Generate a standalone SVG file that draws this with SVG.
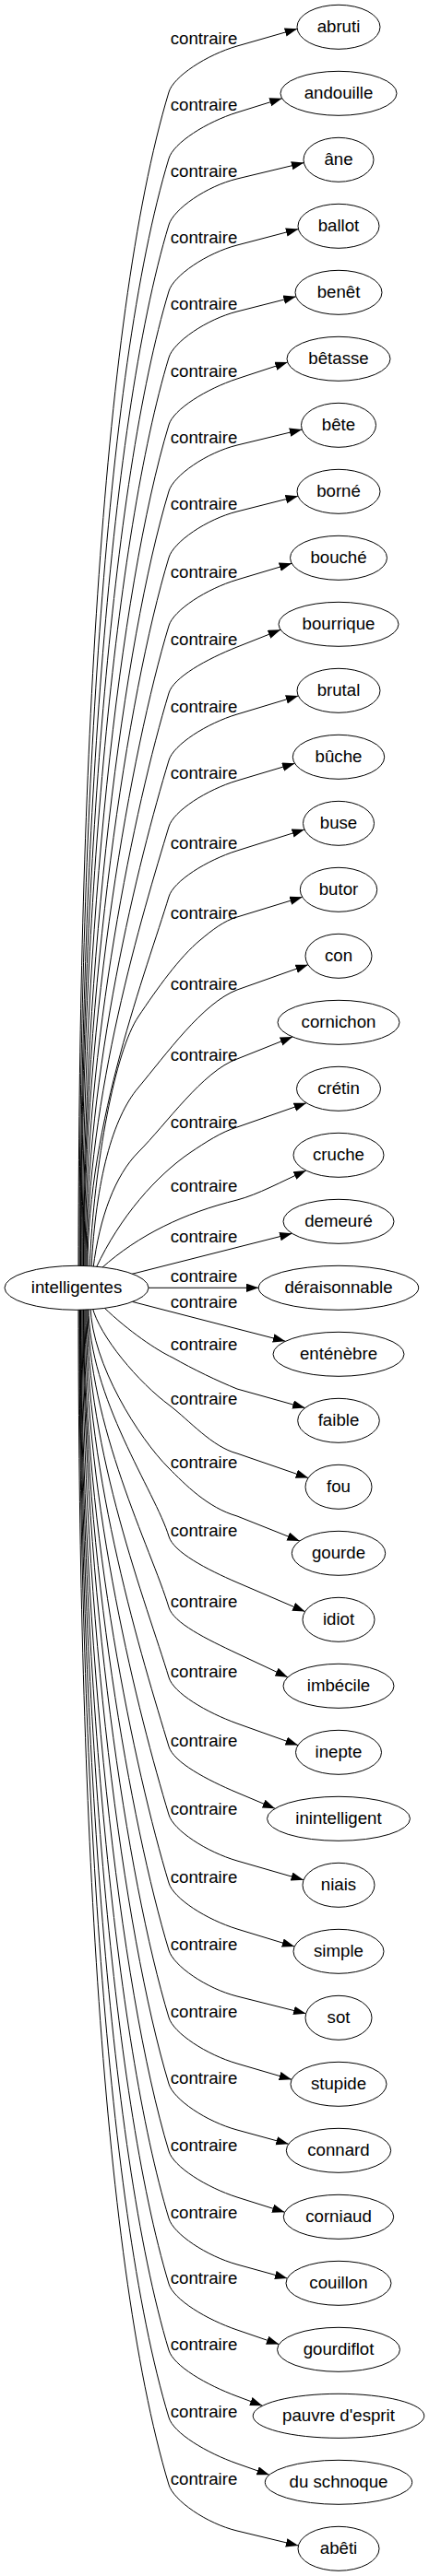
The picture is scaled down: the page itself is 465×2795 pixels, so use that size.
<svg xmlns="http://www.w3.org/2000/svg" width="465" height="2795" viewBox="0 0 465 2795">
<defs>
<marker id="ah" markerWidth="14" markerHeight="10" refX="13.5" refY="4.75" orient="auto" markerUnits="userSpaceOnUse"><path d="M0,0 L13.5,4.75 L0,9.5 z" fill="#000"/></marker>
<style>
.e path{fill:none;stroke:#000;stroke-width:1;marker-end:url(#ah)}
.e text,.n text{font-family:"Liberation Sans",Arial,sans-serif;font-size:18.67px;fill:#000;text-anchor:middle}
.n ellipse{fill:#fff;stroke:#000;stroke-width:1}
</style>
</defs>
<rect width="465" height="2795" fill="#fff"/>
<g id="connectors" class="e">
<g id="e_abruti"><path d="M85,1376 C85,877 107.8,349.7 183,100 C188,83 224,59.5 257,50 L322.2,31.3"/><text x="221" y="48">contraire</text></g>
<g id="e_andouille"><path d="M86,1376 C86,905.2 112.1,407.6 183,172 C188,155 224,132.3 257,122 L305.7,106.8"/><text x="221" y="120">contraire</text></g>
<g id="e_ane"><path d="M87,1376 C87,933.3 116.3,465.5 183,244 C188,227 224,201.9 257,194 L329.4,176.6"/><text x="221" y="192">contraire</text></g>
<g id="e_ballot"><path d="M87.5,1376 C87.5,961.4 120.6,523.4 183,316 C188,299 224,274.6 257,266 L323.4,248.6"/><text x="221" y="264">contraire</text></g>
<g id="e_benet"><path d="M88,1376 C88,989.5 124.8,581.3 183,388 C188,371 224,346.4 257,338 L320.8,321.8"/><text x="221" y="336">contraire</text></g>
<g id="e_betasse"><path d="M89,1376 C89,1017.9 129.1,640 183,461 C188,444 224,421.9 257,411 L311.7,393"/><text x="221" y="409">contraire</text></g>
<g id="e_bete"><path d="M90,1376 C90,1046 133.4,697.8 183,533 C188,516 224,491 257,483 L327.3,466"/><text x="221" y="481">contraire</text></g>
<g id="e_borne"><path d="M90.5,1376 C90.5,1074.1 137.6,755.7 183,605 C188,588 224,563.3 257,555 L323,538.3"/><text x="221" y="553">contraire</text></g>
<g id="e_bouche"><path d="M91,1376 C91,1102.9 142,815.2 183,679 C188,662 224,638.9 257,629 L316.2,611.3"/><text x="221" y="627">contraire</text></g>
<g id="e_bourrique"><path d="M92,1376 C92,1131.4 146.3,873.9 183,752 C188,735 224,715.1 257,702 L304.1,683.3"/><text x="221" y="700">contraire</text></g>
<g id="e_brutal"><path d="M93,1376 C93,1159.9 150.6,932.6 183,825 C188,808 224,784.9 257,775 L323.3,755"/><text x="221" y="773">contraire</text></g>
<g id="e_buche"><path d="M94,1376 C94,1188 154.9,990.5 183,897 C188,880 224,856.9 257,847 L319.5,828.3"/><text x="221" y="845">contraire</text></g>
<g id="e_buse"><path d="M95,1376 C95,1217.6 159.3,1051.6 183,973 C188,956 224,933.4 257,923 L330,900"/><text x="221" y="921">contraire</text></g>
<g id="e_butor"><path d="M97,1376 C102,1260 125,1140 150,1103 C170,1073 195,1038 217,1020 C230,1009 243,999 257,995 L327.7,973.3"/><text x="221" y="997">contraire</text></g>
<g id="e_con"><path d="M99,1376 C104,1280 122,1213 150,1180 C180,1144 220,1088 257,1074 L333.9,1046.7"/><text x="221" y="1074">contraire</text></g>
<g id="e_cornichon"><path d="M101,1376 C108,1320 125,1275 150,1250 C180,1220 220,1162 257,1149 L317.1,1125"/><text x="221" y="1151">contraire</text></g>
<g id="e_cretin"><path d="M104,1376 C130,1320 170,1275 207,1250 C222,1240 240,1228 257,1223 L332.1,1196.7"/><text x="221" y="1224">contraire</text></g>
<g id="e_cruche"><path d="M110,1376 C150,1340 200,1316 257,1302 C280,1296 305,1282 331.8,1270"/><text x="221" y="1293">contraire</text></g>
<g id="e_demeure"><path d="M140,1383.1 L316.6,1338.3"/><text x="221" y="1348">contraire</text></g>
<g id="e_deraisonnable"><path d="M158,1397.3 L280.3,1397.3"/><text x="221" y="1391">contraire</text></g>
<g id="e_entenebre"><path d="M140,1411.5 L309.3,1455.3"/><text x="221" y="1419">contraire</text></g>
<g id="e_faible"><path d="M112,1418 C140,1445 170,1465 187,1473 C210,1486 235,1498 257,1507 L330.6,1527.6"/><text x="221" y="1465">contraire</text></g>
<g id="e_fou"><path d="M100,1418 C108,1450 150,1500 184,1525 C205,1541 230,1570 257,1577 L334.1,1603.6"/><text x="221" y="1524">contraire</text></g>
<g id="e_gourde"><path d="M98,1418 C100,1480 150,1560 183,1593 C200,1610 225,1636 257,1645 L324.8,1672"/><text x="221" y="1593">contraire</text></g>
<g id="e_idiot"><path d="M96,1418 C96,1516.3 168.4,1618.6 183,1667 C188,1684 224,1702.8 257,1717 L330.6,1748.6"/><text x="221" y="1667">contraire</text></g>
<g id="e_imbecile"><path d="M95,1418 C95,1546.4 163.9,1680.5 183,1744 C188,1761 224,1778.5 257,1794 L311.9,1819.8"/><text x="221" y="1744">contraire</text></g>
<g id="e_inepte"><path d="M94,1418 C94,1576 159.4,1741.6 183,1820 C188,1837 224,1858.1 257,1870 L323,1893.6"/><text x="221" y="1820">contraire</text></g>
<g id="e_inintelligent"><path d="M93,1418 C93,1605.3 155,1801.9 183,1895 C188,1912 224,1931.1 257,1945 L298.1,1962.3"/><text x="221" y="1895">contraire</text></g>
<g id="e_niais"><path d="M92,1418 C92,1634.1 150.6,1861.4 183,1969 C188,1986 224,2009.4 257,2019 L329,2039.8"/><text x="221" y="1969">contraire</text></g>
<g id="e_simple"><path d="M91,1418 C91,1663 146.2,1920.9 183,2043 C188,2060 224,2082.8 257,2093 L319.2,2112"/><text x="221" y="2043">contraire</text></g>
<g id="e_sot"><path d="M90.5,1418 C90.5,1691.4 141.9,1979.6 183,2116 C188,2133 224,2157.7 257,2166 L331.6,2184.8"/><text x="221" y="2116">contraire</text></g>
<g id="e_stupide"><path d="M90,1418 C90,1719.9 137.6,2038.3 183,2189 C188,2206 224,2229.4 257,2239 L316.1,2256.3"/><text x="221" y="2189">contraire</text></g>
<g id="e_connard"><path d="M89,1418 C89,1748 133.4,2096.2 183,2261 C188,2278 224,2302.1 257,2311 L312.8,2326.3"/><text x="221" y="2261">contraire</text></g>
<g id="e_corniaud"><path d="M88,1418 C88,1776.5 129.1,2154.9 183,2334 C188,2351 224,2373.4 257,2384 L308.6,2400.3"/><text x="221" y="2334">contraire</text></g>
<g id="e_couillon"><path d="M87.5,1418 C87.5,1804.9 124.8,2213.5 183,2407 C188,2424 224,2447.8 257,2457 L311.4,2472"/><text x="221" y="2407">contraire</text></g>
<g id="e_gourdiflot"><path d="M87,1418 C87,1832.6 120.6,2270.6 183,2478 C188,2495 224,2516.8 257,2528 L302.4,2543.6"/><text x="221" y="2478">contraire</text></g>
<g id="e_pauvre"><path d="M86.5,1418 C86.5,1860.7 116.3,2328.5 183,2550 C188,2567 224,2587.8 257,2600 L284.5,2610.3"/><text x="221" y="2550">contraire</text></g>
<g id="e_duschnoque"><path d="M86,1418 C86,1889.2 112,2387.2 183,2623 C188,2640 224,2661.4 257,2673 L291.9,2685.3"/><text x="221" y="2623">contraire</text></g>
<g id="e_abeti"><path d="M85,1418 C85,1917.6 107.7,2445.9 183,2696 C188,2713 224,2738.1 257,2746 L323.4,2762"/><text x="221" y="2696">contraire</text></g>
</g>
<g id="nodes" class="n">
<g id="n_intelligentes"><ellipse cx="83" cy="1397.3" rx="78" ry="24"/><text x="83" y="1403.3">intelligentes</text></g>
<g id="n_abruti"><ellipse cx="367" cy="29.3" rx="45" ry="24"/><text x="367" y="35.3">abruti</text></g>
<g id="n_andouille"><ellipse cx="367" cy="101.3" rx="63" ry="24"/><text x="367" y="107.3">andouille</text></g>
<g id="n_ane"><ellipse cx="367" cy="173.3" rx="38" ry="24"/><text x="367" y="179.3">âne</text></g>
<g id="n_ballot"><ellipse cx="367" cy="245.3" rx="44" ry="24"/><text x="367" y="251.3">ballot</text></g>
<g id="n_benet"><ellipse cx="367" cy="317.3" rx="47" ry="24"/><text x="367" y="323.3">benêt</text></g>
<g id="n_betasse"><ellipse cx="367" cy="389.3" rx="56" ry="24"/><text x="367" y="395.3">bêtasse</text></g>
<g id="n_bete"><ellipse cx="367" cy="461.3" rx="40.5" ry="24"/><text x="367" y="467.3">bête</text></g>
<g id="n_borne"><ellipse cx="367" cy="533.3" rx="45" ry="24"/><text x="367" y="539.3">borné</text></g>
<g id="n_bouche"><ellipse cx="367" cy="605.3" rx="52.5" ry="24"/><text x="367" y="611.3">bouché</text></g>
<g id="n_bourrique"><ellipse cx="367" cy="677.3" rx="65" ry="24"/><text x="367" y="683.3">bourrique</text></g>
<g id="n_brutal"><ellipse cx="367" cy="749.3" rx="45" ry="24"/><text x="367" y="755.3">brutal</text></g>
<g id="n_buche"><ellipse cx="367" cy="821.3" rx="49.7" ry="24"/><text x="367" y="827.3">bûche</text></g>
<g id="n_buse"><ellipse cx="367" cy="893.3" rx="38.5" ry="24"/><text x="367" y="899.3">buse</text></g>
<g id="n_butor"><ellipse cx="367" cy="965.3" rx="41.7" ry="24"/><text x="367" y="971.3">butor</text></g>
<g id="n_con"><ellipse cx="367" cy="1037.3" rx="36" ry="24"/><text x="367" y="1043.3">con</text></g>
<g id="n_cornichon"><ellipse cx="367" cy="1109.3" rx="66" ry="24"/><text x="367" y="1115.3">cornichon</text></g>
<g id="n_cretin"><ellipse cx="367" cy="1181.3" rx="45.5" ry="24"/><text x="367" y="1187.3">crétin</text></g>
<g id="n_cruche"><ellipse cx="367" cy="1253.3" rx="49" ry="24"/><text x="367" y="1259.3">cruche</text></g>
<g id="n_demeure"><ellipse cx="367" cy="1325.3" rx="60" ry="24"/><text x="367" y="1331.3">demeuré</text></g>
<g id="n_deraisonnable"><ellipse cx="367" cy="1397.3" rx="86.7" ry="24"/><text x="367" y="1403.3">déraisonnable</text></g>
<g id="n_entenebre"><ellipse cx="367" cy="1469.3" rx="71" ry="24"/><text x="367" y="1475.3">enténèbre</text></g>
<g id="n_faible"><ellipse cx="367" cy="1541.3" rx="44.3" ry="24"/><text x="367" y="1547.3">faible</text></g>
<g id="n_fou"><ellipse cx="367" cy="1613.3" rx="36" ry="24"/><text x="367" y="1619.3">fou</text></g>
<g id="n_gourde"><ellipse cx="367" cy="1685.3" rx="50.7" ry="24"/><text x="367" y="1691.3">gourde</text></g>
<g id="n_idiot"><ellipse cx="367" cy="1757.3" rx="39" ry="24"/><text x="367" y="1763.3">idiot</text></g>
<g id="n_imbecile"><ellipse cx="367" cy="1829.3" rx="60" ry="24"/><text x="367" y="1835.3">imbécile</text></g>
<g id="n_inepte"><ellipse cx="367" cy="1901.3" rx="46.5" ry="24"/><text x="367" y="1907.3">inepte</text></g>
<g id="n_inintelligent"><ellipse cx="367" cy="1973.3" rx="77.5" ry="24"/><text x="367" y="1979.3">inintelligent</text></g>
<g id="n_niais"><ellipse cx="367" cy="2045.3" rx="39" ry="24"/><text x="367" y="2051.3">niais</text></g>
<g id="n_simple"><ellipse cx="367" cy="2117.3" rx="49" ry="24"/><text x="367" y="2123.3">simple</text></g>
<g id="n_sot"><ellipse cx="367" cy="2189.3" rx="36" ry="24"/><text x="367" y="2195.3">sot</text></g>
<g id="n_stupide"><ellipse cx="367" cy="2261.3" rx="52" ry="24"/><text x="367" y="2267.3">stupide</text></g>
<g id="n_connard"><ellipse cx="367" cy="2333.3" rx="56.7" ry="24"/><text x="367" y="2339.3">connard</text></g>
<g id="n_corniaud"><ellipse cx="367" cy="2405.3" rx="59.7" ry="24"/><text x="367" y="2411.3">corniaud</text></g>
<g id="n_couillon"><ellipse cx="367" cy="2477.3" rx="57" ry="24"/><text x="367" y="2483.3">couillon</text></g>
<g id="n_gourdiflot"><ellipse cx="367" cy="2549.3" rx="66.5" ry="24"/><text x="367" y="2555.3">gourdiflot</text></g>
<g id="n_pauvre"><ellipse cx="367" cy="2621.3" rx="92.8" ry="24"/><text x="367" y="2627.3">pauvre d'esprit</text></g>
<g id="n_duschnoque"><ellipse cx="367" cy="2693.3" rx="79.7" ry="24"/><text x="367" y="2699.3">du schnoque</text></g>
<g id="n_abeti"><ellipse cx="367" cy="2765.3" rx="44" ry="24"/><text x="367" y="2771.3">abêti</text></g>
</g>
</svg>
